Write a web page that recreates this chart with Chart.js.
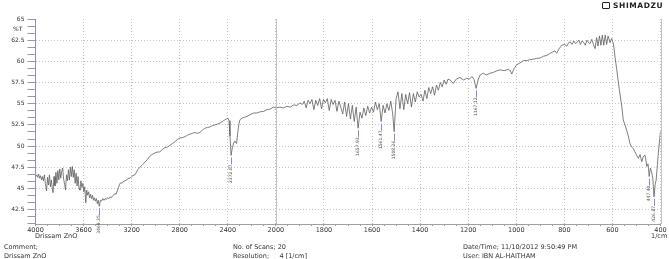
<!DOCTYPE html>
<html>
<head>
<meta charset="utf-8">
<script src="https://cdn.jsdelivr.net/npm/chart.js@4.4.1/dist/chart.umd.min.js"></script>
<style>
  body { margin: 0; background: #fff; }
  #wrap { position: relative; width: 669px; height: 259px; font-family: 'DejaVu Sans', sans-serif; color: #333; }
  .t { position: absolute; white-space: pre; font-size: 6.5px; line-height: 8px; }
  #logo { position: absolute; left: 602px; top: 2px; font-size: 7.5px; font-weight: bold; letter-spacing: 0.6px; line-height: 8px; color: #222; }
  #logo span { display: inline-block; width: 6px; height: 5px; border: 1px solid #222; margin-right: 3px; vertical-align: -1px; border-radius: 1px; }
</style>
</head>
<body>
<div id="wrap">
  <canvas id="irChart" width="669" height="259"></canvas>
  <div id="logo"><span></span>SHIMADZU</div>
  <div class="t" style="left:13px; top:25px; font-size:6px;">%T</div>
  <div class="t" style="left:35px; top:232px;">Drissam ZnO</div>
  <div class="t" style="left:651px; top:232px;">1/cm</div>
  <div class="t" style="left:4px; top:243px;">Comment;</div>
  <div class="t" style="left:4px; top:252px;">Drissam ZnO</div>
  <div class="t" style="left:233px; top:243px;">No. of Scans; 20</div>
  <div class="t" style="left:233px; top:252px;">Resolution;     4 [1/cm]</div>
  <div class="t" style="left:463px; top:243px;">Date/Time; 11/10/2012 9:50:49 PM</div>
  <div class="t" style="left:463px; top:252px;">User: IBN AL-HAITHAM</div>
</div>
<script>
// wavenumbers (1/cm) and transmittance (%T)
const wavenumbers = [
  4000, 3990, 3982, 3974, 3966, 3958, 3950, 3942, 3934, 3926, 3918, 3908, 3900, 3892, 3884, 3876, 3868, 3860, 3854, 3846,
  3838, 3830, 3822, 3814, 3806, 3798, 3790, 3782, 3774, 3766, 3758, 3750, 3742, 3734, 3726, 3718, 3710, 3702, 3694, 3686,
  3678, 3670, 3662, 3654, 3646, 3638, 3630, 3622, 3614, 3606, 3598, 3590, 3582, 3574, 3566, 3558, 3550, 3542, 3534, 3526,
  3518, 3510, 3502, 3494, 3485, 3478, 3469, 3460, 3450, 3440, 3430, 3420, 3410, 3400, 3390, 3380, 3370, 3360, 3350, 3340,
  3330, 3320, 3310, 3300, 3290, 3280, 3270, 3256, 3240, 3230, 3214, 3200, 3190, 3173, 3160, 3150, 3131, 3110, 3090, 3070,
  3048, 3030, 3006, 2985, 2965, 2945, 2923, 2900, 2881, 2860, 2840, 2820, 2798, 2780, 2757, 2735, 2715, 2695, 2674, 2655,
  2632, 2610, 2591, 2570, 2549, 2530, 2507, 2485, 2466, 2445, 2424, 2410, 2399, 2390, 2382, 2373, 2362, 2350, 2341, 2334,
  2327, 2318, 2308, 2299, 2282, 2260, 2241, 2215, 2186, 2160, 2130, 2100, 2075, 2050, 2020, 2000, 1982, 1968, 1954, 1940,
  1927, 1912, 1899, 1890, 1882, 1874, 1866, 1858, 1850, 1842, 1834, 1826, 1818, 1810, 1802, 1794, 1786, 1778, 1770, 1762,
  1754, 1746, 1738, 1730, 1722, 1714, 1706, 1698, 1690, 1682, 1674, 1666, 1658, 1650, 1642, 1634, 1626, 1618, 1610, 1602,
  1594, 1586, 1578, 1570, 1562, 1554, 1546, 1538, 1530, 1522, 1514, 1508, 1500, 1492, 1484, 1476, 1468, 1460, 1452, 1444,
  1436, 1428, 1420, 1412, 1404, 1396, 1388, 1380, 1372, 1364, 1356, 1348, 1340, 1332, 1324, 1316, 1308, 1300, 1292, 1284,
  1275, 1262, 1250, 1234, 1220, 1206, 1195, 1185, 1176, 1167, 1158, 1150, 1137, 1125, 1109, 1095, 1080, 1067, 1050, 1034,
  1025, 1019, 1008, 998, 985, 970, 955, 943, 930, 915, 900, 887, 872, 859, 849, 839, 832, 824, 811, 800,
  790, 782, 776, 768, 760, 754, 748, 740, 733, 727, 721, 713, 706, 699, 693, 686, 679, 672, 666, 660,
  654, 648, 642, 636, 630, 624, 618, 610, 603, 596, 589, 582, 571, 561, 555, 548, 541, 534, 527, 520,
  513, 506, 499, 492, 485, 478, 471, 464, 457, 452, 447, 442, 437, 432, 427, 422, 418, 413, 409, 404,
  400
];
const transmittance = [
  46.4, 46.6, 46.3, 46.7, 46.2, 46.5, 46.0, 46.4, 45.9, 46.6, 45.6, 44.7, 46.3, 45.4, 46.6, 45.2, 46.0, 45.0, 44.5, 46.4,
  45.3, 46.9, 45.6, 47.1, 46.0, 47.3, 46.2, 47.0, 47.4, 46.1, 45.5, 44.8, 46.6, 45.9, 47.2, 46.0, 47.5, 46.4, 47.6, 46.3,
  47.2, 45.6, 46.8, 45.3, 46.4, 45.0, 44.8, 45.9, 45.1, 45.6, 44.6, 45.2, 43.3, 44.8, 44.2, 44.6, 43.9, 44.3, 43.8, 44.2,
  43.6, 43.9, 43.5, 43.8, 43.2, 43.6, 42.9, 43.6, 43.5, 43.8, 43.6, 43.8, 43.7, 43.9, 43.8, 44.0, 43.9, 44.1, 44.2, 44.4,
  44.3, 44.7, 45.1, 45.5, 45.7, 45.6, 45.8, 45.9, 46.0, 46.2, 46.2, 46.4, 46.5, 46.6, 46.9, 47.2, 47.5, 47.8, 48.1, 48.4,
  48.8, 49.0, 49.2, 49.3, 49.3, 49.6, 49.8, 49.9, 50.1, 50.3, 50.5, 50.8, 50.95, 51.0, 51.1, 51.3, 51.4, 51.5, 51.6, 51.5,
  51.6, 51.9, 52.1, 52.2, 52.25, 52.4, 52.5, 52.6, 52.7, 52.9, 53.1, 53.2, 53.3, 53.0, 51.2, 48.9, 49.8, 50.4, 50.6, 50.4,
  50.3, 51.5, 52.6, 53.1, 53.3, 53.4, 53.5, 53.7, 53.9, 53.9, 54.05, 54.1, 54.3, 54.35, 54.6, 54.5, 54.6, 54.5, 54.7, 54.6,
  54.85, 54.8, 55.1, 54.9, 55.3, 54.5, 55.4, 55.0, 55.5, 54.3, 55.4, 54.8, 55.6, 54.4, 55.5, 55.1, 55.6, 54.2, 55.5, 54.9,
  55.4, 54.1, 55.3, 54.6, 53.8, 55.2, 53.5, 55.0, 53.2, 54.8, 52.9, 54.6, 52.1, 54.0, 53.3, 54.5, 53.6, 54.7, 53.9, 54.6,
  54.0, 55.2, 54.3, 55.0, 52.9, 54.8, 53.9, 55.0, 54.2, 55.3, 53.8, 51.7, 55.6, 56.4, 54.4, 56.2, 54.3, 56.1, 55.0, 56.3,
  54.6, 56.2, 55.2, 56.4, 55.8, 56.1, 55.3, 56.6, 55.6, 56.9, 56.2, 57.0, 56.0, 57.2, 56.6, 57.5, 57.0, 57.8, 57.3, 57.9,
  57.8, 57.4, 57.9, 58.1, 57.8, 58.0, 57.9, 58.2, 57.9, 56.8, 57.9, 58.4, 58.6, 58.4, 58.6, 58.7, 58.9, 59.0, 58.9, 59.05,
  58.9, 58.5, 59.2, 59.6, 59.8, 60.1, 60.1, 60.2, 60.25, 60.35, 60.4, 60.6, 60.7, 60.95, 61.1, 61.25, 60.95, 61.4, 61.9, 62.0,
  61.8, 62.2, 62.3, 62.0, 62.4, 62.1, 62.2, 62.5, 62.0, 62.4, 62.3, 61.9, 62.5, 62.2, 62.1, 62.6, 62.0, 61.5, 62.8, 61.8,
  63.0, 61.9, 63.1, 61.9, 63.1, 62.0, 63.0, 62.2, 62.7, 62.1, 60.5, 59.0, 56.6, 54.65, 53.1, 52.5, 51.9, 51.2, 50.3, 49.9,
  49.7, 49.3, 48.9, 48.55, 49.0, 48.15, 48.8, 48.9, 47.6, 47.9, 46.4, 47.4, 46.95, 46.2, 44.0, 45.5, 46.0, 47.8, 49.2, 50.6,
  51.8
];

// picked peaks
const peakWavenumbers = [3469, 2373, 1658, 1562, 1508, 1167, 447, 427];
const peakValues = [42.9, 48.9, 52.1, 52.9, 51.7, 56.8, 46.4, 44.0];
const peakLabels = ['3469.35', '2372.87', '1657.93', '1561.47', '1508.26', '1167.12', '447.40', '426.87'];

const xTickLabels = ['4000', '3600', '3200', '2800', '2400', '2000', '1800', '1600', '1400', '1200', '1000', '800', '600', '400'];
const yTickLabels = ['65', '62.5', '60', '57.5', '55', '52.5', '50', '47.5', '45', '42.5'];

// the axis is compressed by 2 above 2000 1/cm, like the instrument printout
function toAxis(wn) {
  return wn >= 2000 ? (4000 - wn) / 2 : 1000 + (2000 - wn);
}

const points = wavenumbers.map((wn, i) => ({ x: toAxis(wn), y: transmittance[i] }));

Chart.defaults.font.family = "'DejaVu Sans', sans-serif";
Chart.defaults.color = '#444';

// peak markers: short tick below the dip and a rotated number
const peakPlugin = {
  id: 'peaks',
  afterDatasetsDraw(chart) {
    const ctx = chart.ctx;
    const xs = chart.scales.x, ys = chart.scales.y;
    const area = chart.chartArea;
    ctx.save();
    // solid line at the scale break and the right border
    ctx.strokeStyle = '#c4c4c4';
    ctx.lineWidth = 1;
    [1000, 2600].forEach(v => {
      const px = Math.round(xs.getPixelForValue(v)) + 0.5;
      ctx.beginPath();
      ctx.moveTo(px, area.top);
      ctx.lineTo(px, area.bottom);
      ctx.stroke();
    });
    peakWavenumbers.forEach((wn, i) => {
      const px = xs.getPixelForValue(toAxis(wn));
      const py = ys.getPixelForValue(peakValues[i]);
      ctx.strokeStyle = '#8a8ac8';
      ctx.beginPath();
      ctx.moveTo(Math.round(px) + 0.5, py + 2);
      ctx.lineTo(Math.round(px) + 0.5, py + 9);
      ctx.stroke();
      ctx.save();
      ctx.translate(px, py + 9);
      ctx.rotate(-Math.PI / 2);
      ctx.fillStyle = '#555';
      ctx.font = "4.5px 'DejaVu Sans'";
      ctx.textAlign = 'right';
      ctx.textBaseline = 'middle';
      ctx.fillText(peakLabels[i], 0, 0);
      ctx.restore();
    });
    ctx.restore();
  }
};

const config = {
  type: 'line',
  data: {
    datasets: [{
      label: 'Drissam ZnO',
      data: points,
      borderColor: '#5e5e5e',
      borderWidth: 0.8,
      pointRadius: 0,
      tension: 0,
      fill: false
    }]
  },
  options: {
    responsive: false,
    animation: false,
    devicePixelRatio: 1,
    layout: { padding: { left: 0, right: 8.5, top: 19, bottom: 0 } },
    plugins: { legend: { display: false }, tooltip: { enabled: false } },
    scales: {
      x: {
        type: 'linear',
        min: 0,
        max: 2600,
        afterBuildTicks(scale) {
          const ticks = [];
          for (let t = 0; t <= 2600; t += 50) ticks.push({ value: t });
          scale.ticks = ticks;
        },
        afterFit(scale) { scale.height = 35; },
        ticks: {
          autoSkip: false,
          maxRotation: 0,
          padding: 0,
          font: { size: 6.5 },
          color: '#333',
          callback: (v) => v % 200 === 0 ? xTickLabels[v / 200] : ''
        },
        grid: {
          color: (c) => (c.tick && c.tick.value % 200 === 0) ? '#c4c4c4' : 'rgba(0,0,0,0)',
          tickColor: '#999',
          tickLength: 2,
          lineWidth: 1
        },
        border: { color: '#a0a0a0', dash: [1, 2] }
      },
      y: {
        min: 40.8,
        max: 65,
        afterBuildTicks(scale) {
          const ticks = [];
          for (let k = 0; k < 30; k++) {
            const v = Math.round((65 - k * 2.5 / 3) * 1000) / 1000;
            if (v < 40.8) break;
            ticks.push({ value: v });
          }
          scale.ticks = ticks;
        },
        afterFit(scale) { scale.width = 35.5; },
        ticks: {
          autoSkip: false,
          padding: 3,
          font: { size: 6 },
          color: '#333',
          callback: function (v, i) { return i % 3 === 0 ? yTickLabels[i / 3] : ''; }
        },
        grid: {
          color: (c) => (c.index % 3 === 0 && c.index > 0) ? '#c4c4c4' : 'rgba(0,0,0,0)',
          tickColor: '#999',
          tickLength: 8,
          lineWidth: 1
        },
        border: { color: '#8c8cc8', dash: [1, 2] }
      }
    }
  },
  plugins: [peakPlugin]
};

const irChart = new Chart(document.getElementById('irChart'), config);
</script>
</body>
</html>
